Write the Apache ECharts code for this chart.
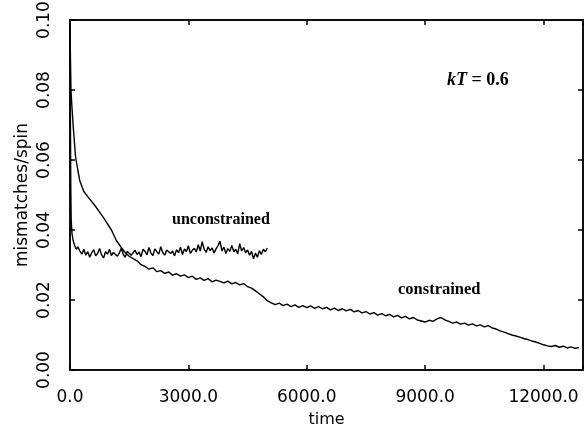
<!DOCTYPE html>
<html>
<head>
<meta charset="utf-8">
<script src="https://cdn.jsdelivr.net/npm/echarts@6/dist/echarts.min.js"></script>
<style>
html,body{margin:0;padding:0;background:#fff;}
#c{width:587px;height:429px;}
</style>
</head>
<body>
<div id="c"></div>
<script>
// ---- data ----
const xTicks = [0, 3000, 6000, 9000, 12000];
const yTicks = [0.00, 0.02, 0.04, 0.06, 0.08, 0.10];

const unconstrainedTime = [0,10,20,30,50,80,120,160,
  200,250,300,350,400,450,500,550,600,650,
  700,750,800,850,900,950,1000,1050,1100,1150,
  1200,1250,1300,1350,1400,1450,1500,1550,1600,1650,
  1700,1750,1800,1850,1900,1950,2000,2050,2100,2150,
  2200,2250,2300,2350,2400,2450,2500,2550,2600,2650,
  2700,2750,2800,2850,2900,2950,3000,3050,3100,3150,
  3200,3250,3300,3350,3400,3450,3500,3550,3600,3650,
  3700,3750,3800,3850,3900,3950,4000,4050,4100,4150,
  4200,4250,4300,4350,4400,4450,4500,4550,4600,4650,
  4700,4750,4800,4850,4900,4950,5000];
const unconstrainedValue = [0.099,0.072,0.052,0.043,0.039,0.037,0.0355,0.0345,
  0.0352,0.0340,0.0331,0.0345,0.0328,0.0338,0.0322,0.0335,0.0344,0.0326,
  0.0333,0.0347,0.0329,0.0320,0.0338,0.0331,0.0345,0.0327,0.0336,0.0341,
  0.0325,0.0334,0.0348,0.0330,0.0322,0.0339,0.0344,0.0328,0.0335,0.0342,
  0.0330,0.0337,0.0324,0.0345,0.0339,0.0329,0.0350,0.0334,0.0327,0.0346,
  0.0338,0.0331,0.0352,0.0336,0.0328,0.0343,0.0347,0.0333,0.0340,0.0326,
  0.0344,0.0335,0.0351,0.0330,0.0346,0.0338,0.0355,0.0333,0.0342,0.0348,
  0.0337,0.0358,0.0340,0.0367,0.0345,0.0336,0.0352,0.0341,0.0349,0.0334,
  0.0346,0.0355,0.0368,0.0340,0.0351,0.0333,0.0347,0.0339,0.0356,0.0338,
  0.0345,0.0332,0.0361,0.0340,0.0350,0.0335,0.0343,0.0328,0.0339,0.0318,
  0.0334,0.0322,0.0341,0.0330,0.0345,0.0338,0.0348];

const constrainedTime = [0,10,25,50,85,140,200,250,350,460,630,840,1050,1175,1300,1400,1500,1600,
  1700,1800,1900,
  2000,2100,2200,2300,2400,2500,2600,2700,2800,2900,
  3000,3100,3200,3300,3400,3500,3600,3700,3800,3900,
  4000,4100,4200,4300,4400,4500,4600,4700,4800,4900,
  5000,5100,5200,5300,5400,5500,5600,5700,5800,5900,
  6000,6100,6200,6300,6400,6500,6600,6700,6800,6900,
  7000,7100,7200,7300,7400,7500,7600,7700,7800,7900,
  8000,8100,8200,8300,8400,8500,8600,8700,8800,8900,
  9000,9100,9200,9300,9400,9500,9600,9700,9800,9900,
  10000,10100,10200,10300,10400,10500,10600,10700,10800,10900,
  11000,11100,11200,11300,11400,11500,11600,11700,11800,11900,
  12000,12100,12200,12300,12400,12500,12600,12700,12800,12900];
const constrainedValue = [0.100,0.090,0.080,0.075,0.069,0.061,0.057,0.054,0.051,0.0494,0.047,0.0437,0.040,0.037,0.035,0.0335,0.0325,0.0318,
  0.0312,0.0301,0.0296,
  0.0288,0.0292,0.0281,0.0284,0.0276,0.0280,0.0271,0.0275,0.0268,0.0272,
  0.0264,0.0268,0.0259,0.0263,0.0256,0.0261,0.0252,0.0257,0.0253,0.0249,
  0.0254,0.0246,0.0250,0.0243,0.0247,0.0238,0.0234,0.0226,0.0218,0.0209,
  0.0198,0.0192,0.0187,0.0191,0.0184,0.0188,0.0181,0.0186,0.0179,0.0184,
  0.0178,0.0183,0.0176,0.0181,0.0175,0.0179,0.0172,0.0177,0.0170,0.0175,
  0.0169,0.0173,0.0166,0.0170,0.0163,0.0167,0.0160,0.0164,0.0157,0.0161,
  0.0155,0.0159,0.0152,0.0156,0.0149,0.0153,0.0146,0.0150,0.0143,0.0140,
  0.0137,0.0142,0.0139,0.0146,0.0150,0.0143,0.0139,0.0134,0.0137,0.0131,
  0.0134,0.0128,0.0132,0.0126,0.0129,0.0123,0.0127,0.0120,0.0117,0.0112,
  0.0108,0.0104,0.0100,0.0097,0.0094,0.0090,0.0087,0.0083,0.0080,0.0076,
  0.0072,0.0069,0.0067,0.0070,0.0065,0.0068,0.0063,0.0066,0.0062,0.0064];

const seriesNames = ['unconstrained', 'constrained'];

// ---- chart ----
const pairs = (t, v) => t.map((x, i) => [x, v[i]]);
const chart = echarts.init(document.getElementById('c'), null, {renderer: 'canvas'});
const axisLine = {show: true, onZero: false, lineStyle: {color: '#000', width: 1.5}};
const tick = {show: true, inside: true, length: 5, lineStyle: {color: '#000', width: 1.5}};
const sans = '"DejaVu Sans", Verdana, sans-serif';
const serif = '"Liberation Serif", "DejaVu Serif", serif';

chart.setOption({
  animation: false,
  backgroundColor: '#fff',
  grid: {left: 70, right: 4, top: 20, bottom: 59, containLabel: false,
    outerBoundsMode: 'none',
    show: true, borderColor: '#000', borderWidth: 1.5, backgroundColor: 'transparent'},
  xAxis: [{
    type: 'value', min: 0, max: 13000, interval: 3000, position: 'bottom',
    axisLine, axisTick: tick, splitLine: {show: false},
    axisLabel: {color: '#000', fontSize: 17, fontFamily: sans, margin: 19,
      formatter: v => xTicks.includes(v) ? v.toFixed(1) : ''},
    name: 'time', nameLocation: 'middle', nameGap: 42, nameMoveOverlap: false,
    nameTextStyle: {color: '#000', fontSize: 16, fontFamily: sans}
  }, {
    type: 'value', min: 0, max: 13000, interval: 3000, position: 'top',
    axisLine, axisTick: tick, axisLabel: {show: false}, splitLine: {show: false}
  }],
  yAxis: [{
    type: 'value', min: 0, max: 0.1, interval: 0.02, position: 'left',
    axisLine, axisTick: tick, splitLine: {show: false},
    axisLabel: {color: '#000', fontSize: 17, fontFamily: sans, rotate: 90, margin: 17,
      formatter: v => yTicks.some(t => Math.abs(t - v) < 1e-9) ? v.toFixed(2) : ''},
    name: 'mismatches/spin', nameLocation: 'middle', nameGap: 39, nameRotate: 90, nameMoveOverlap: false,
    nameTextStyle: {color: '#000', fontSize: 17, fontFamily: sans}
  }, {
    type: 'value', min: 0, max: 0.1, interval: 0.02, position: 'right',
    axisLine, axisTick: tick, axisLabel: {show: false}, splitLine: {show: false}
  }],
  series: [{
    name: seriesNames[0], type: 'line', xAxisIndex: 0, yAxisIndex: 0,
    data: pairs(unconstrainedTime, unconstrainedValue),
    showSymbol: false, symbol: 'none', lineStyle: {color: '#000', width: 1.4}
  }, {
    name: seriesNames[1], type: 'line', xAxisIndex: 0, yAxisIndex: 0,
    data: pairs(constrainedTime, constrainedValue),
    showSymbol: false, symbol: 'none', lineStyle: {color: '#000', width: 1.4}
  }],
  graphic: [{
    type: 'text', left: 172, top: 212,
    style: {text: seriesNames[0], fill: '#000', font: 'bold 16px ' + serif}
  }, {
    type: 'text', left: 398, top: 281,
    style: {text: seriesNames[1], fill: '#000', font: 'bold 16.5px ' + serif}
  }, {
    type: 'text', left: 447, top: 71,
    style: {
      text: '{i|kT}{b| = 0.6}', fill: '#000',
      rich: {
        i: {fontFamily: serif, fontSize: 18, fontStyle: 'italic', fontWeight: 'bold', fill: '#000'},
        b: {fontFamily: serif, fontSize: 18, fontWeight: 'bold', fill: '#000'}
      }
    }
  }]
});
</script>
</body>
</html>
